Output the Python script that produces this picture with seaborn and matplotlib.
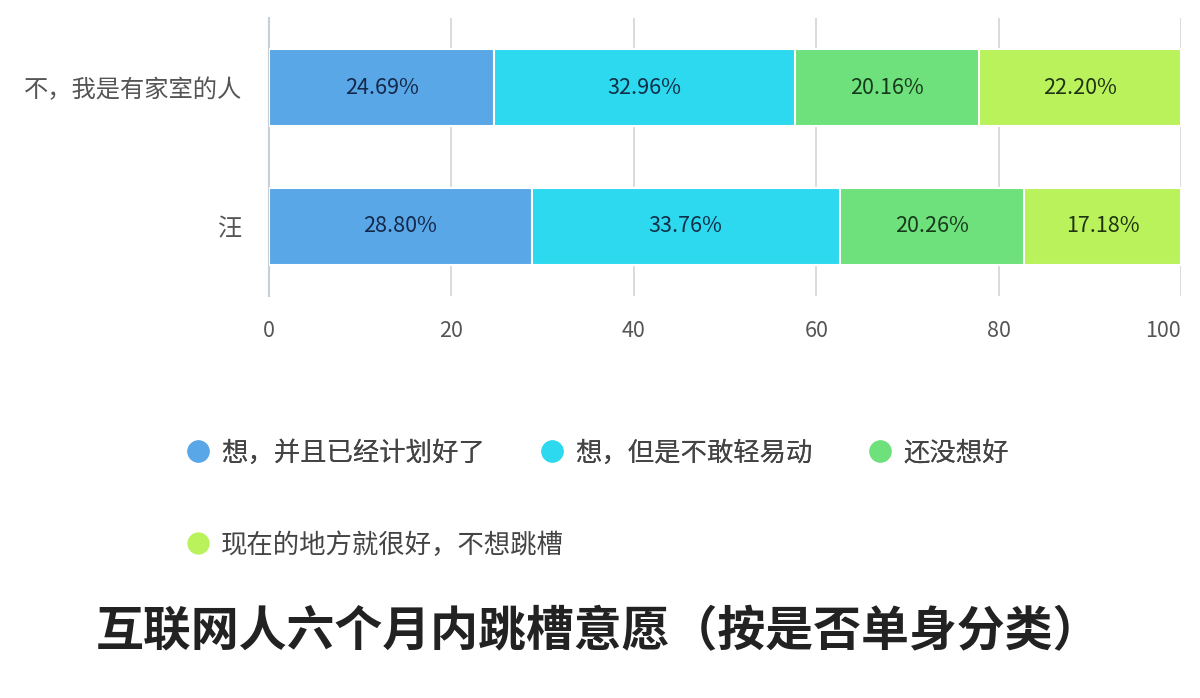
import numpy as np
import pandas as pd
import seaborn as sns
import matplotlib.pyplot as plt
from matplotlib.lines import Line2D

# data
groups = ["不，我是有家室的人", "汪"]
answers = ["想，并且已经计划好了", "想，但是不敢轻易动", "还没想好", "现在的地方就很好，不想跳槽"]
share_family = [24.69, 32.96, 20.16, 22.20]
share_wang = [28.80, 33.76, 20.26, 17.18]
colors = ["#5aa7e8", "#2dd9ee", "#6ee07c", "#b9f25a"]
text_colors = ["#14284a", "#0f2f48", "#173a1c", "#1f3312"]

sns.set_theme(style="white")
plt.rcParams["font.family"] = ["Noto Sans CJK SC", "DejaVu Sans"]

df = pd.DataFrame({"group": groups * len(answers),
                   "answer": np.repeat(answers, len(groups)),
                   "value": [v for pair in zip(share_family, share_wang) for v in pair]})
df["cum"] = df.groupby("group")["value"].cumsum()
df["mid"] = df["cum"] - df["value"] / 2

fig = plt.figure(figsize=(12, 6.98), dpi=100)
ax = fig.add_axes([269 / 1200, 1 - 296 / 698, 912 / 1200, 278 / 698])

# stacked bars: draw cumulative totals from the last answer backwards
for i in range(len(answers) - 1, -1, -1):
    sub = df[df["answer"] == answers[i]]
    sns.barplot(data=sub, x="cum", y="group", order=groups, color=colors[i],
                orient="h", width=0.56, edgecolor="white", linewidth=1.5,
                saturation=1, ax=ax, zorder=3)

for i, ans in enumerate(answers):
    sub = df[df["answer"] == ans]
    for _, r in sub.iterrows():
        ax.text(r["mid"], groups.index(r["group"]), f"{r['value']:.2f}%",
                ha="center", va="center", fontsize=15.5, color=text_colors[i], zorder=4)

ax.set_xlim(0, 100)
ax.set_ylim(1.5, -0.5)
ax.set_xticks([0, 20, 40, 60, 80, 100])
ax.xaxis.grid(True, color="#d4d4d4", linewidth=1.2, zorder=0)
ax.set_axisbelow(True)
for s in ["top", "right", "bottom"]:
    ax.spines[s].set_visible(False)
ax.spines["left"].set_color("#c8ced6")
ax.spines["left"].set_linewidth(1.5)
ax.set_xlabel("")
ax.set_ylabel("")
ax.tick_params(axis="x", length=0, labelsize=15.5, labelcolor="#555555", pad=17)
ax.tick_params(axis="y", which="major", length=0, labelsize=17.5, labelcolor="#555555", pad=19)
ax.set_yticks([-0.5, 0.5, 1.5], minor=True)
ax.tick_params(axis="y", which="minor", length=13, width=1.5, color="#c8ced6")
ax.get_xticklabels()[-1].set_horizontalalignment("right")

# legend, laid out in two rows like the original
handles = [Line2D([], [], marker="o", linestyle="", markersize=15,
                  markerfacecolor=c, markeredgecolor=c) for c in colors]
leg1 = fig.legend(handles[:3], answers[:3], loc="center left",
                  bbox_to_anchor=(187 / 1200, 1 - 453 / 698), ncol=3, frameon=False,
                  fontsize=19, handlelength=0.8, handletextpad=0.5,
                  columnspacing=2.13, borderpad=0, borderaxespad=0, labelcolor="#444444")
fig.legend(handles[3:], answers[3:], loc="center left",
           bbox_to_anchor=(187 / 1200, 1 - 545 / 698), frameon=False,
           fontsize=19, handlelength=0.8, handletextpad=0.5,
           borderpad=0, borderaxespad=0, labelcolor="#444444")
fig.add_artist(leg1)

fig.text(598 / 1200, 1 - 632 / 698, "互联网人六个月内跳槽意愿（按是否单身分类）",
         ha="center", va="center", fontsize=34.5, fontweight="bold", color="#222222")

fig.savefig("out.png", dpi=100, facecolor="white")
